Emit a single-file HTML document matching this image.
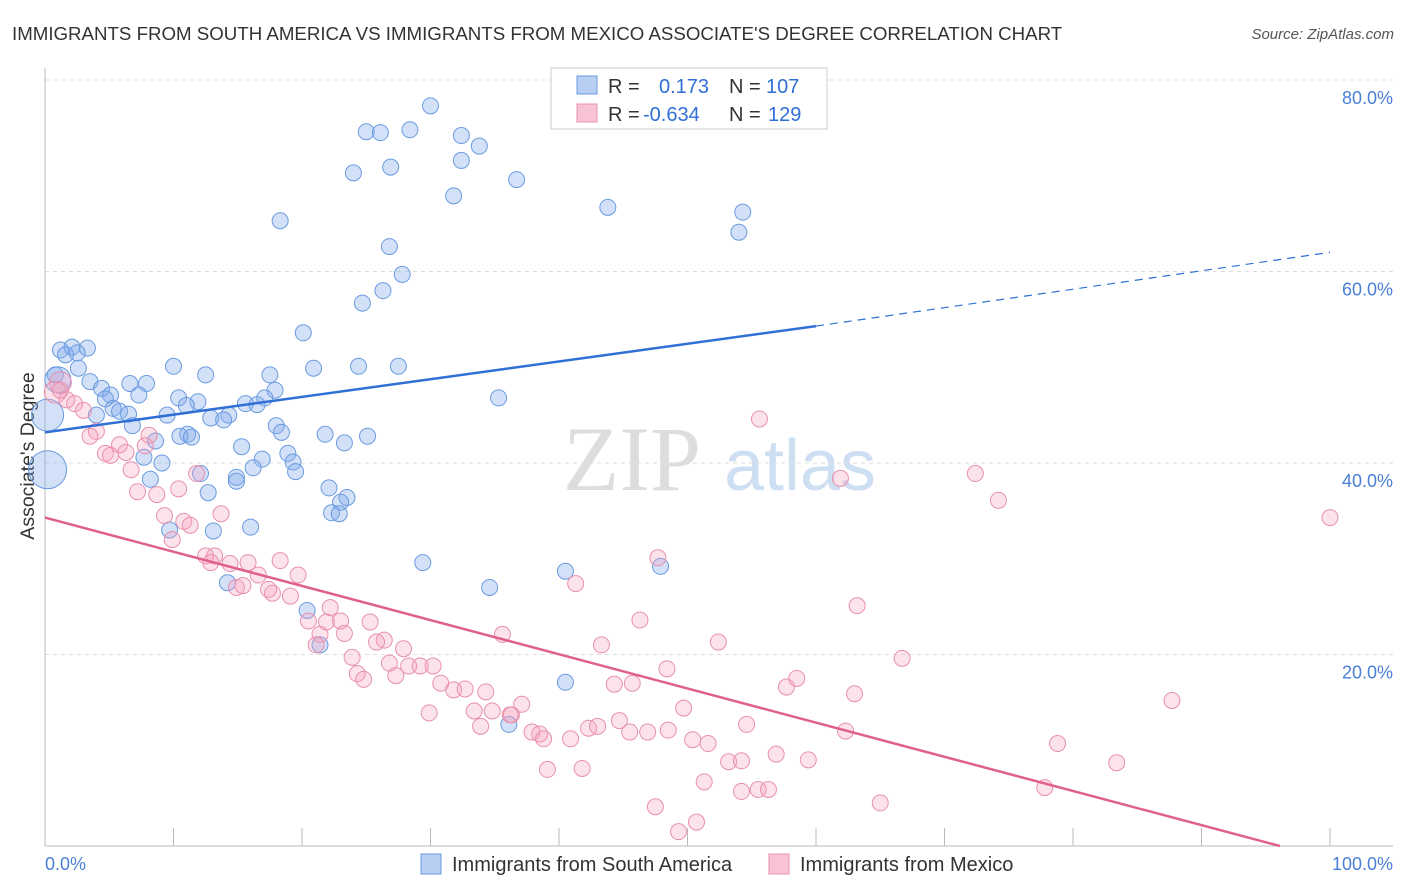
<!DOCTYPE html>
<html><head><meta charset="utf-8"><style>
body{margin:0;background:#fff;font-family:"Liberation Sans",sans-serif;}
svg{display:block}
</style></head><body>
<svg id="chart" width="1406" height="892">
<text x="12" y="40" font-size="18.7" fill="#333">IMMIGRANTS FROM SOUTH AMERICA VS IMMIGRANTS FROM MEXICO ASSOCIATE'S DEGREE CORRELATION CHART</text>
<text x="1394" y="39" font-size="15" fill="#555" text-anchor="end" font-style="italic">Source: ZipAtlas.com</text>
<text x="34" y="456" font-size="19.5" fill="#333" text-anchor="middle" transform="rotate(-90 34 456)">Associate's Degree</text>
<g>
<text x="632" y="490" font-size="92" fill="#ddd" font-family="Liberation Serif,serif" text-anchor="middle">ZIP</text>
<text x="800" y="490" font-size="72" fill="#cfdff3" text-anchor="middle">atlas</text>
</g>
<g id="grid"></g><g id="ticks"></g><g id="pts"></g><g id="lines"></g>
<g>
<rect x="551" y="68" width="276" height="61" fill="#fff" stroke="#ccc"/>
<rect x="577" y="76" width="20" height="18" fill="#b8cff3" stroke="#6a9be0"/>
<rect x="577" y="104" width="20" height="18" fill="#f8c4d5" stroke="#e890ae"/>
<text x="608" y="93" font-size="20" fill="#333">R = <tspan x="659" fill="#2f6fd6">0.173</tspan><tspan x="729" fill="#333">N = </tspan><tspan x="766" fill="#2f6fd6">107</tspan></text>
<text x="608" y="121" font-size="20" fill="#333">R = <tspan x="643" fill="#2f6fd6">-0.634</tspan><tspan x="729" fill="#333">N = </tspan><tspan x="768" fill="#2f6fd6">129</tspan></text>
</g>
<g>
<rect x="421" y="854" width="20" height="20" fill="#b8cff3" stroke="#6a9be0"/>
<text x="452" y="871" font-size="20" fill="#333">Immigrants from South America</text>
<rect x="769" y="854" width="20" height="20" fill="#f8c4d5" stroke="#e890ae"/>
<text x="800" y="871" font-size="20" fill="#333">Immigrants from Mexico</text>
</g>
</svg>
<script>
const yTicks=[20,40,60,80];
const yTickLabels=["20.0%","40.0%","60.0%","80.0%"];
const xTicks=[0,10,20,30,40,50,60,70,80,90,100];
const blueX=[30.0,25.0,26.1,28.4,32.4,33.8,32.4,26.9,24.0,36.7,31.8,43.8,54.3,18.3,54.0,26.8,27.8,26.3,24.7,20.1,1.2,2.1,3.3,1.6,2.5,10.0,20.9,24.4,27.5,2.6,12.5,17.5,0.8,3.5,6.6,7.9,4.4,17.9,5.1,7.3,10.4,17.1,35.3,4.7,11.9,15.6,16.5,11.0,5.3,5.8,6.5,4.0,9.5,14.3,12.9,13.9,6.8,18.0,18.4,21.8,25.1,11.1,10.5,11.4,8.6,23.3,15.3,18.9,7.7,16.9,19.3,9.1,16.2,19.5,12.1,14.9,14.9,8.2,12.7,22.1,23.5,23.0,22.3,22.9,9.7,13.1,16.0,29.4,40.5,47.9,14.2,34.6,20.4,21.4,40.5,36.1,0.2,0.2,1.0];
const blueY=[77.3,74.6,74.5,74.8,74.2,73.1,71.6,70.9,70.3,69.6,67.9,66.7,66.2,65.3,64.1,62.6,59.7,58.0,56.7,53.6,51.8,52.1,52.0,51.3,51.5,50.1,49.9,50.1,50.1,49.9,49.2,49.2,49.2,48.5,48.3,48.3,47.8,47.6,47.1,47.1,46.8,46.8,46.8,46.7,46.4,46.2,46.1,46.0,45.7,45.4,45.1,45.0,45.0,45.0,44.7,44.5,43.9,43.9,43.2,43.0,42.8,43.0,42.8,42.7,42.3,42.1,41.7,41.0,40.6,40.4,40.1,40.0,39.5,39.1,38.9,38.5,38.1,38.3,36.9,37.4,36.4,35.9,34.8,34.7,33.0,32.9,33.3,29.6,28.7,29.2,27.5,27.0,24.6,21.0,17.1,12.7,39.3,45.0,48.7];
const pinkX=[1.2,0.8,1.7,2.3,3.0,1.2,4.0,3.5,4.7,5.8,6.3,8.1,7.8,5.1,6.7,7.2,8.7,10.4,11.8,9.3,10.8,11.3,13.7,9.9,12.5,13.2,12.9,14.4,15.8,18.3,16.6,14.9,15.4,17.7,17.4,19.1,19.7,22.2,20.5,21.9,23.0,21.4,23.3,25.3,26.4,25.8,27.9,21.1,23.9,26.8,28.3,29.2,30.2,24.3,24.8,27.3,30.8,31.8,32.7,34.3,29.9,33.4,34.8,36.3,37.1,36.2,33.9,37.9,38.5,38.8,40.9,42.3,43.0,44.7,45.5,46.9,48.5,50.4,51.6,53.2,54.2,54.6,56.9,59.4,62.3,51.3,54.2,55.5,56.3,39.1,41.8,47.5,49.3,50.7,65.0,35.6,41.3,43.3,46.3,47.7,44.3,45.7,48.4,49.7,52.4,57.7,58.5,63.2,63.0,66.7,55.6,61.9,72.4,74.2,100.0,87.7,78.8,83.4,77.8];
const pinkY=[48.4,47.4,46.6,46.2,45.5,47.6,43.3,42.8,41.0,41.9,41.1,42.9,41.8,40.8,39.3,37.0,36.7,37.3,38.9,34.5,33.9,33.5,34.7,32.0,30.3,30.3,29.6,29.5,29.6,29.8,28.3,27.0,27.2,26.4,26.8,26.1,28.3,24.9,23.5,23.4,23.5,22.1,22.2,23.4,21.5,21.3,20.6,21.0,19.7,19.1,18.8,18.8,18.8,18.0,17.4,17.8,17.0,16.3,16.4,16.1,13.9,14.1,14.1,13.7,14.8,13.7,12.5,11.9,11.7,11.2,11.2,12.3,12.5,13.1,11.9,11.9,12.1,11.1,10.7,8.8,8.9,12.7,9.6,9.0,12.0,6.7,5.7,5.9,5.9,8.0,8.1,4.1,1.5,2.5,4.5,22.1,27.4,21.0,23.6,30.1,16.9,17.0,18.5,14.4,21.3,16.6,17.5,25.1,15.9,19.6,44.6,38.4,38.9,36.1,34.3,15.2,10.7,8.7,6.1];
const blueTrend=[43.2,54.3,62.0];
const pinkTrend=[34.3,0];
const pinkZeroX=96.1;

const NS="http://www.w3.org/2000/svg";
const X0=45,X1=1330,Y0=846,PER20=191.5;
function xs(v){return X0+(X1-X0)*v/100;}
function ys(v){return Y0-PER20*v/20;}
function mk(tag,attrs,parent){const e=document.createElementNS(NS,tag);for(const k in attrs)e.setAttribute(k,attrs[k]);document.getElementById(parent).appendChild(e);return e;}

yTicks.forEach((t,i)=>{
  const l=mk('line',{x1:X0,x2:1393,y1:ys(t),y2:ys(t),stroke:'#ddd','stroke-dasharray':'4,4'},'grid');
  
  
  const tx=mk('text',{x:1393,y:ys(t)+24,'font-size':18,fill:'#4a7fd6','text-anchor':'end'},'grid');
  tx.textContent=yTickLabels[i];
  
  
});
const ax=mk('line',{x1:X0,x2:1393,y1:Y0,y2:Y0,stroke:'#bbb'},'ticks');


const ay=mk('line',{x1:X0,x2:X0,y1:68,y2:Y0,stroke:'#bbb'},'ticks');


xTicks.forEach(t=>{
  const l=mk('line',{x1:xs(t),x2:xs(t),y1:828,y2:Y0,stroke:'#bbb'},'ticks');
  
  
});
const xl0=mk('text',{x:45,y:870,'font-size':18,fill:'#4a7fd6'},'ticks');xl0.textContent='0.0%';


const xl1=mk('text',{x:1393,y:870,'font-size':18,fill:'#4a7fd6','text-anchor':'end'},'ticks');xl1.textContent='100.0%';



blueX.forEach((x,i)=>{
  const r=i>=blueX.length-3?[19,16,13][i-(blueX.length-3)]:8;
  const c=mk('circle',{cx:xs(x),cy:ys(blueY[i]),r:r,fill:'rgba(130,170,235,0.35)',stroke:'#6a9be0','stroke-width':1},'pts');
  
  
});
pinkX.forEach((x,i)=>{
  const r=i<2?11:8;
  const c=mk('circle',{cx:xs(x),cy:ys(pinkY[i]),r:r,fill:'rgba(245,160,190,0.3)',stroke:'#e890ae','stroke-width':1},'pts');
  
  
});
const b1=mk('line',{x1:xs(0),y1:ys(blueTrend[0]),x2:xs(60),y2:ys(blueTrend[1]),stroke:'#2f6fd6','stroke-width':2.5},'lines');


const b2=mk('line',{x1:xs(60),y1:ys(blueTrend[1]),x2:xs(100),y2:ys(blueTrend[2]),stroke:'#2f6fd6','stroke-width':1.2,'stroke-dasharray':'8,6'},'lines');


const p1=mk('line',{x1:xs(0),y1:ys(pinkTrend[0]),x2:xs(pinkZeroX),y2:ys(pinkTrend[1]),stroke:'#e0608c','stroke-width':2.5},'lines');


</script>
</body></html>
